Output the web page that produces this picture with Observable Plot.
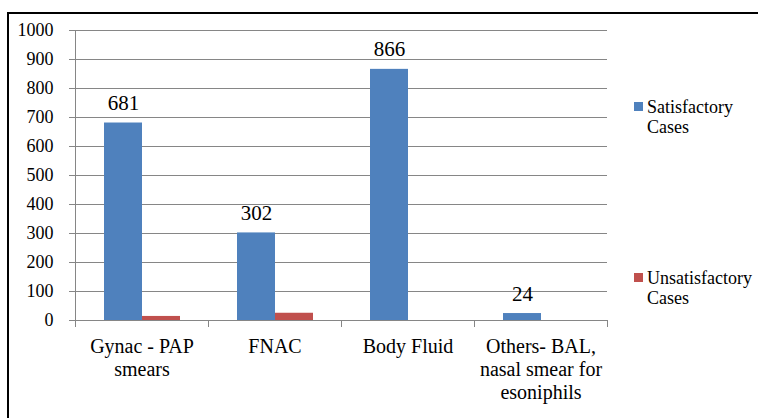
<!DOCTYPE html>
<html>
<head>
<meta charset="utf-8">
<script src="https://cdn.jsdelivr.net/npm/d3@7"></script>
<script src="https://cdn.jsdelivr.net/npm/@observablehq/plot@0.6"></script>
<style>
  html, body { margin: 0; padding: 0; background: #fff; }
  #wrap { position: relative; width: 758px; height: 418px; overflow: hidden; font-family: "Liberation Serif", "Times New Roman", Tinos, "DejaVu Serif", serif; }
  #border { position: absolute; left: 7px; top: 12px; width: 800px; height: 500px; border: 2px solid #000; box-sizing: border-box; }
  #chart { position: absolute; left: 0; top: 0; }
  .leg { position: absolute; left: 634px; font-size: 18px; line-height: 20px; color: #000; }
  .leg .sw { position: absolute; left: 0; width: 9px; height: 9px; }
  .leg .tx { position: absolute; left: 13px; white-space: nowrap; }
</style>
</head>
<body>
<div id="wrap">
  <div id="border"></div>
  <div id="chart"></div>
  <div id="legend"></div>
</div>
<script>
const categories = ["Gynac - PAP smears", "FNAC", "Body Fluid", "Others- BAL, nasal smear for esoniphils"];
const categoryTickLabels = ["Gynac - PAP\nsmears", "FNAC", "Body Fluid", "Others- BAL,\nnasal smear for\nesoniphils"];
const seriesNames = ["Satisfactory Cases", "Unsatisfactory Cases"];
const legendLabels = ["Satisfactory\nCases", "Unsatisfactory\nCases"];
const seriesColors = ["#4F81BD", "#C0504D"];
const satisfactory = [681, 302, 866, 24];
const unsatisfactory = [14, 25, 0, 0];
const yTicks = [0, 100, 200, 300, 400, 500, 600, 700, 800, 900, 1000];

const rows = [];
categories.forEach((c, i) => {
  rows.push({category: c, series: seriesNames[0], value: satisfactory[i]});
  rows.push({category: c, series: seriesNames[1], value: unsatisfactory[i]});
});
const satRows = rows.filter(d => d.series === seriesNames[0]);

const gray = "#868686";
const serif = "'Liberation Serif', 'Times New Roman', Tinos, 'DejaVu Serif', serif";
const tickLabelMap = new Map(categories.map((c, i) => [c, categoryTickLabels[i]]));

const chart = Plot.plot({
  width: 758,
  height: 418,
  marginLeft: 73,
  marginRight: 150,
  marginTop: 30,
  marginBottom: 98,
  style: {fontFamily: serif, background: "transparent", color: "#000"},
  fx: {domain: categories, padding: 0, label: null},
  x: {domain: seriesNames, paddingInner: 0, paddingOuter: 0.74, axis: null},
  y: {domain: [0, 1000], label: null},
  color: {domain: seriesNames, range: seriesColors},
  marks: [
    Plot.gridY(yTicks, {stroke: gray, strokeOpacity: 1, strokeWidth: 1}),
    Plot.ruleY([0], {stroke: gray, strokeWidth: 1}),
    Plot.frame({anchor: "left", facet: "super", stroke: gray}),
    Plot.frame({anchor: "left", stroke: gray, insetTop: 290, insetBottom: -6}),
    Plot.frame({anchor: "right", stroke: gray, insetTop: 290, insetBottom: -6}),
    Plot.barY(rows, {fx: "category", x: "series", y: "value", fill: "series"}),
    Plot.text(satRows, {fx: "category", x: "series", y: "value", text: d => String(d.value), lineAnchor: "bottom", dy: -13, fontSize: 21, fontFamily: serif, fill: "#000"}),
    Plot.axisY(yTicks, {anchor: "left", tickSize: 6, tickPadding: 16, fontSize: 18, fontFamily: serif, stroke: gray, fill: "#000", label: null, tickFormat: d => String(d)}),
    Plot.axisFx({anchor: "bottom", tickSize: 0, tickPadding: 16, fontSize: 20, fontFamily: serif, lineHeight: 1.15, fill: "#000", label: null, tickFormat: d => tickLabelMap.get(d)})
  ]
});
document.getElementById("chart").appendChild(chart);

const legend = document.getElementById("legend");
const legendTops = [97, 268];
seriesNames.forEach((s, i) => {
  const item = document.createElement("div");
  item.className = "leg";
  item.style.top = legendTops[i] + "px";
  const sw = document.createElement("div");
  sw.className = "sw";
  sw.style.background = seriesColors[i];
  sw.style.top = "5px";
  const tx = document.createElement("div");
  tx.className = "tx";
  tx.innerHTML = legendLabels[i].split("\n").join("<br>");
  item.appendChild(sw);
  item.appendChild(tx);
  legend.appendChild(item);
});
</script>
</body>
</html>
